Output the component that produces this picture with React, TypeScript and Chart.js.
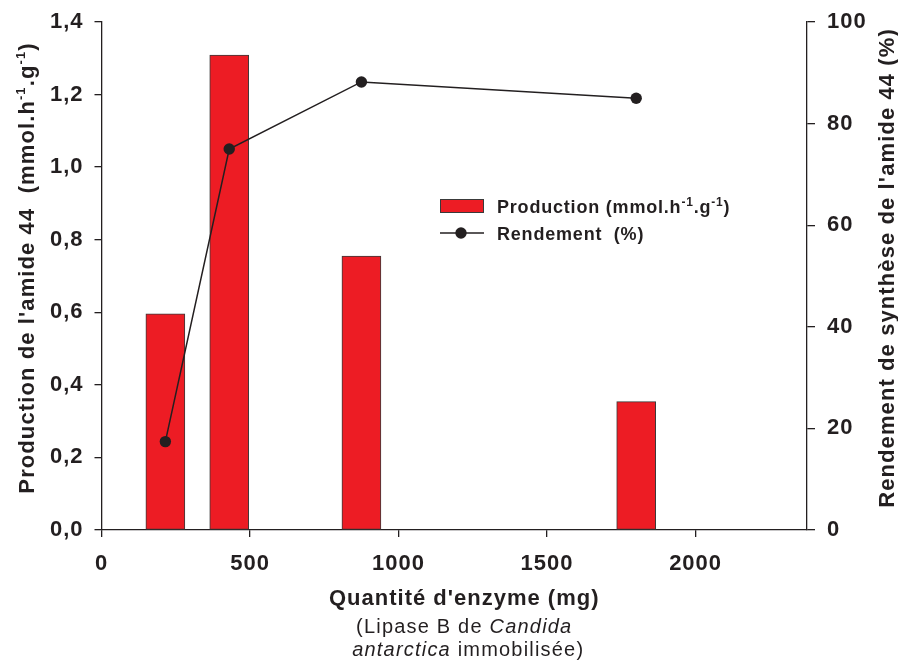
import React, { useEffect, useRef } from 'react';
import { Chart, registerables } from 'chart.js';

Chart.register(...registerables);

// ---- Data ----
const enzymeMg = [215, 430, 875, 1800];
const production = [0.596, 1.309, 0.755, 0.354];
const rendement = [17.4, 75.0, 88.2, 85.0];
const xTickValues = [0, 500, 1000, 1500, 2000];
const yLeftTickValues = [0, 0.2, 0.4, 0.6, 0.8, 1.0, 1.2, 1.4];
const yRightTickValues = [0, 20, 40, 60, 80, 100];
const productionLabel = 'Production';
const rendementLabel = 'Rendement';

const FAMILY = '"Liberation Sans", Arial, Helvetica, sans-serif';
const INK = '#231F20';
const RED = '#ED1C24';

type Run = { t: string; size: number; weight?: string; style?: string; dy?: number };

function runFont(r: Run) {
  return `${r.style || 'normal'} ${r.weight || 'normal'} ${r.size}px ${FAMILY}`;
}

function drawRuns(ctx: CanvasRenderingContext2D, runs: Run[], x: number, y: number, align: 'left' | 'center', spacing: number) {
  (ctx as any).letterSpacing = spacing + 'px';
  ctx.textAlign = 'left';
  ctx.textBaseline = 'alphabetic';
  const widths = runs.map((r) => {
    ctx.font = runFont(r);
    return ctx.measureText(r.t).width;
  });
  const total = widths.reduce((a, b) => a + b, 0);
  let cx = align === 'center' ? x - total / 2 : x;
  runs.forEach((r, i) => {
    ctx.font = runFont(r);
    ctx.fillText(r.t, cx, y + (r.dy || 0));
    cx += widths[i];
  });
}

const textPlugin = {
  id: 'customText',
  beforeDraw(chart: any) {
    (chart.ctx as any).letterSpacing = '1px';
  },
  afterDraw(chart: any) {
    const ctx: CanvasRenderingContext2D = chart.ctx;
    const a = chart.chartArea;
    const midY = (a.top + a.bottom) / 2 - 8;
    const midX = (a.left + a.right) / 2;
    ctx.save();
    ctx.fillStyle = INK;

    // Left axis title
    ctx.save();
    ctx.translate(34, midY);
    ctx.rotate(-Math.PI / 2);
    drawRuns(ctx, [
      { t: "Production de l'amide 44  (mmol.h", size: 22, weight: 'bold' },
      { t: '-1', size: 13, weight: 'bold', dy: -9 },
      { t: '.g', size: 22, weight: 'bold' },
      { t: '-1', size: 13, weight: 'bold', dy: -9 },
      { t: ')', size: 22, weight: 'bold' },
    ], 0, 0, 'center', 1.1);
    ctx.restore();

    // Right axis title
    ctx.save();
    ctx.translate(894, midY);
    ctx.rotate(-Math.PI / 2);
    drawRuns(ctx, [{ t: "Rendement de synthèse de l'amide 44 (%)", size: 22, weight: 'bold' }], 0, 0, 'center', 1.1);
    ctx.restore();

    // X axis title (3 lines)
    const cx = midX + 10;
    drawRuns(ctx, [{ t: "Quantité d'enzyme (mg)", size: 22, weight: 'bold' }], cx, 605, 'center', 1);
    drawRuns(ctx, [
      { t: '(Lipase B de ', size: 20 },
      { t: 'Candida', size: 20, style: 'italic' },
    ], cx, 633, 'center', 1.2);
    drawRuns(ctx, [
      { t: 'antarctica', size: 20, style: 'italic' },
      { t: ' immobilisée)', size: 20 },
    ], cx + 4, 656, 'center', 1.2);

    // Legend
    const ds0 = chart.data.datasets[0];
    const ds1 = chart.data.datasets[1];
    const lx = 440;
    ctx.fillStyle = RED;
    ctx.fillRect(lx, 199, 44, 14);
    ctx.strokeStyle = '#3a3a3a';
    ctx.lineWidth = 1;
    ctx.strokeRect(lx + 0.5, 199.5, 43, 13);
    ctx.fillStyle = INK;
    drawRuns(ctx, [
      { t: ds0.label + ' (mmol.h', size: 18, weight: 'bold' },
      { t: '-1', size: 12, weight: 'bold', dy: -7 },
      { t: '.g', size: 18, weight: 'bold' },
      { t: '-1', size: 12, weight: 'bold', dy: -7 },
      { t: ')', size: 18, weight: 'bold' },
    ], 497, 213, 'left', 0.8);
    ctx.strokeStyle = INK;
    ctx.lineWidth = 1.5;
    ctx.beginPath();
    ctx.moveTo(lx, 233);
    ctx.lineTo(lx + 44, 233);
    ctx.stroke();
    ctx.beginPath();
    ctx.arc(lx + 21, 233, 5.7, 0, Math.PI * 2);
    ctx.fill();
    drawRuns(ctx, [{ t: ds1.label + '  (%)', size: 18, weight: 'bold' }], 497, 240, 'left', 0.8);

    (ctx as any).letterSpacing = '0px';
    ctx.restore();
  },
};

export default function App() {
  const ref = useRef<HTMLCanvasElement>(null);

  useEffect(() => {
    document.body.style.margin = '0';
    const canvas = ref.current!;
    const tickFont = { family: FAMILY, size: 22, weight: 'bold' as const };
    const vTickFont = { family: FAMILY, size: 22, weight: 'bold' as const, lineHeight: 0.85 };

    const chart = new Chart(canvas, {
      type: 'bar',
      data: {
        datasets: [
          {
            type: 'bar',
            label: productionLabel,
            data: enzymeMg.map((x, i) => ({ x, y: production[i] })),
            backgroundColor: RED,
            borderColor: '#3a3a3a',
            borderWidth: 1,
            borderSkipped: false,
            barThickness: 39,
            grouped: false,
            yAxisID: 'y',
            order: 2,
          } as any,
          {
            type: 'line',
            label: rendementLabel,
            data: enzymeMg.map((x, i) => ({ x, y: rendement[i] })),
            borderColor: INK,
            borderWidth: 1.5,
            pointRadius: 5.7,
            pointBackgroundColor: INK,
            pointBorderColor: INK,
            pointBorderWidth: 0,
            tension: 0,
            fill: false,
            yAxisID: 'y2',
            order: 1,
          } as any,
        ],
      },
      options: {
        responsive: false,
        animation: false,
        events: [],
        layout: { autoPadding: false, padding: { top: 22, left: 0, right: 0, bottom: 0 } },
        plugins: {
          legend: { display: false },
          tooltip: { enabled: false },
          title: { display: false },
        },
        scales: {
          x: {
            type: 'linear',
            min: 0,
            max: 2375,
            offset: false,
            afterBuildTicks: (s: any) => {
              s.ticks = xTickValues.map((v) => ({ value: v }));
            },
            afterFit: (s: any) => {
              s.height = 131;
            },
            ticks: {
              font: tickFont,
              color: INK,
              padding: 14,
              maxRotation: 0,
              autoSkip: false,
              callback: (v: any) => String(v),
            },
            grid: {
              display: true,
              drawOnChartArea: false,
              drawTicks: true,
              tickLength: 7,
              color: INK,
              lineWidth: 1.3,
              offset: false,
            },
            border: { display: true, color: INK, width: 1.3 },
          } as any,
          y: {
            type: 'linear',
            position: 'left',
            min: 0,
            max: 1.4,
            afterBuildTicks: (s: any) => {
              s.ticks = yLeftTickValues.map((v) => ({ value: v }));
            },
            afterFit: (s: any) => {
              s.width = 101.5;
            },
            ticks: {
              font: vTickFont,
              color: INK,
              padding: 11,
              autoSkip: false,
              callback: (v: any) => Number(v).toFixed(1).replace('.', ','),
            },
            grid: {
              display: true,
              drawOnChartArea: false,
              drawTicks: true,
              tickLength: 7,
              color: INK,
              lineWidth: 1.3,
            },
            border: { display: true, color: INK, width: 1.3 },
          } as any,
          y2: {
            type: 'linear',
            position: 'right',
            min: 0,
            max: 100,
            afterBuildTicks: (s: any) => {
              s.ticks = yRightTickValues.map((v) => ({ value: v }));
            },
            afterFit: (s: any) => {
              s.width = 91;
            },
            ticks: {
              font: vTickFont,
              color: INK,
              padding: 12,
              autoSkip: false,
              callback: (v: any) => String(v),
            },
            grid: {
              display: true,
              drawOnChartArea: false,
              drawTicks: true,
              tickLength: 8,
              color: INK,
              lineWidth: 1.3,
            },
            border: { display: true, color: INK, width: 1.3 },
          } as any,
        },
      } as any,
      plugins: [textPlugin as any],
    });

    return () => chart.destroy();
  }, []);

  return (
    <div style={{ width: 898, height: 661, position: 'relative', background: '#fff' }}>
      <canvas ref={ref} width={898} height={661} style={{ display: 'block' }} />
    </div>
  );
}
